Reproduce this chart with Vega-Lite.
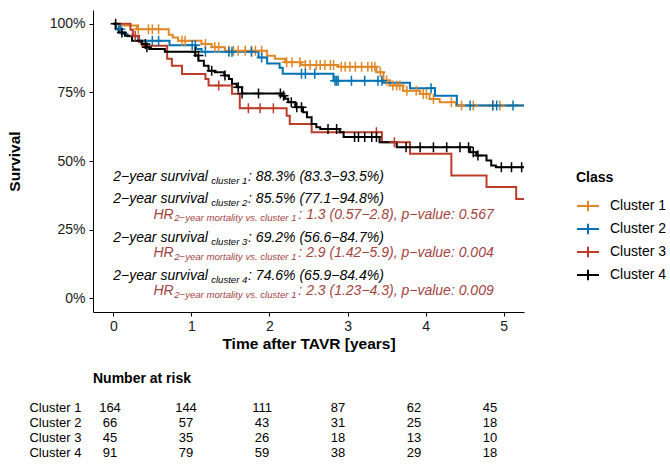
{
  "$schema": "https://vega.github.io/schema/vega-lite/v6.json",
  "background": "white",
  "padding": {"left": 7, "top": 10, "right": 0, "bottom": 0},
  "config": {
    "font": "Liberation Sans",
    "view": {"stroke": null},
    "axis": {"grid": false, "domainColor": "#000000", "tickColor": "#000000", "labelColor": "#1a1a1a", "titleColor": "#000000", "domainWidth": 1, "tickWidth": 1}
  },
  "datasets": {
    "curves": [
      {"cluster": "Cluster 1", "time": 0, "surv": 1.0},
      {"cluster": "Cluster 1", "time": 0.10, "surv": 0.994},
      {"cluster": "Cluster 1", "time": 0.30, "surv": 0.98},
      {"cluster": "Cluster 1", "time": 0.71, "surv": 0.96},
      {"cluster": "Cluster 1", "time": 0.76, "surv": 0.95},
      {"cluster": "Cluster 1", "time": 0.83, "surv": 0.938},
      {"cluster": "Cluster 1", "time": 1.13, "surv": 0.926},
      {"cluster": "Cluster 1", "time": 1.26, "surv": 0.914},
      {"cluster": "Cluster 1", "time": 1.43, "surv": 0.902},
      {"cluster": "Cluster 1", "time": 1.97, "surv": 0.883},
      {"cluster": "Cluster 1", "time": 2.07, "surv": 0.872},
      {"cluster": "Cluster 1", "time": 2.20, "surv": 0.86},
      {"cluster": "Cluster 1", "time": 2.41, "surv": 0.85},
      {"cluster": "Cluster 1", "time": 2.88, "surv": 0.843},
      {"cluster": "Cluster 1", "time": 3.37, "surv": 0.823},
      {"cluster": "Cluster 1", "time": 3.46, "surv": 0.793},
      {"cluster": "Cluster 1", "time": 3.54, "surv": 0.775},
      {"cluster": "Cluster 1", "time": 3.71, "surv": 0.756},
      {"cluster": "Cluster 1", "time": 3.93, "surv": 0.744},
      {"cluster": "Cluster 1", "time": 4.05, "surv": 0.726},
      {"cluster": "Cluster 1", "time": 4.18, "surv": 0.714},
      {"cluster": "Cluster 1", "time": 4.39, "surv": 0.702},
      {"cluster": "Cluster 1", "time": 5.26, "surv": 0.702},
      {"cluster": "Cluster 2", "time": 0, "surv": 1.0},
      {"cluster": "Cluster 2", "time": 0.07, "surv": 0.98},
      {"cluster": "Cluster 2", "time": 0.11, "surv": 0.963},
      {"cluster": "Cluster 2", "time": 0.18, "surv": 0.954},
      {"cluster": "Cluster 2", "time": 0.32, "surv": 0.938},
      {"cluster": "Cluster 2", "time": 0.72, "surv": 0.922},
      {"cluster": "Cluster 2", "time": 1.06, "surv": 0.908},
      {"cluster": "Cluster 2", "time": 1.13, "surv": 0.898},
      {"cluster": "Cluster 2", "time": 1.86, "surv": 0.877},
      {"cluster": "Cluster 2", "time": 1.97, "surv": 0.855},
      {"cluster": "Cluster 2", "time": 2.13, "surv": 0.84},
      {"cluster": "Cluster 2", "time": 2.17, "surv": 0.818},
      {"cluster": "Cluster 2", "time": 2.82, "surv": 0.792},
      {"cluster": "Cluster 2", "time": 3.46, "surv": 0.785},
      {"cluster": "Cluster 2", "time": 3.80, "surv": 0.765},
      {"cluster": "Cluster 2", "time": 4.12, "surv": 0.738},
      {"cluster": "Cluster 2", "time": 4.40, "surv": 0.702},
      {"cluster": "Cluster 2", "time": 5.26, "surv": 0.702},
      {"cluster": "Cluster 3", "time": 0, "surv": 1.0},
      {"cluster": "Cluster 3", "time": 0.22, "surv": 0.978},
      {"cluster": "Cluster 3", "time": 0.25, "surv": 0.956},
      {"cluster": "Cluster 3", "time": 0.33, "surv": 0.933},
      {"cluster": "Cluster 3", "time": 0.37, "surv": 0.92},
      {"cluster": "Cluster 3", "time": 0.69, "surv": 0.872},
      {"cluster": "Cluster 3", "time": 0.75, "surv": 0.847},
      {"cluster": "Cluster 3", "time": 0.88, "surv": 0.817},
      {"cluster": "Cluster 3", "time": 1.18, "surv": 0.799},
      {"cluster": "Cluster 3", "time": 1.22, "surv": 0.775},
      {"cluster": "Cluster 3", "time": 1.52, "surv": 0.745},
      {"cluster": "Cluster 3", "time": 1.62, "surv": 0.692},
      {"cluster": "Cluster 3", "time": 2.22, "surv": 0.665},
      {"cluster": "Cluster 3", "time": 2.26, "surv": 0.635},
      {"cluster": "Cluster 3", "time": 2.54, "surv": 0.605},
      {"cluster": "Cluster 3", "time": 3.44, "surv": 0.568},
      {"cluster": "Cluster 3", "time": 3.80, "surv": 0.526},
      {"cluster": "Cluster 3", "time": 4.33, "surv": 0.447},
      {"cluster": "Cluster 3", "time": 4.78, "surv": 0.405},
      {"cluster": "Cluster 3", "time": 5.16, "surv": 0.362},
      {"cluster": "Cluster 3", "time": 5.26, "surv": 0.362},
      {"cluster": "Cluster 4", "time": 0, "surv": 1.0},
      {"cluster": "Cluster 4", "time": 0.03, "surv": 0.98},
      {"cluster": "Cluster 4", "time": 0.07, "surv": 0.968},
      {"cluster": "Cluster 4", "time": 0.15, "surv": 0.956},
      {"cluster": "Cluster 4", "time": 0.24, "surv": 0.938},
      {"cluster": "Cluster 4", "time": 0.37, "surv": 0.926},
      {"cluster": "Cluster 4", "time": 0.42, "surv": 0.914},
      {"cluster": "Cluster 4", "time": 0.46, "surv": 0.908},
      {"cluster": "Cluster 4", "time": 0.66, "surv": 0.898},
      {"cluster": "Cluster 4", "time": 1.05, "surv": 0.884},
      {"cluster": "Cluster 4", "time": 1.09, "surv": 0.865},
      {"cluster": "Cluster 4", "time": 1.16, "surv": 0.847},
      {"cluster": "Cluster 4", "time": 1.22, "surv": 0.829},
      {"cluster": "Cluster 4", "time": 1.30, "surv": 0.823},
      {"cluster": "Cluster 4", "time": 1.42, "surv": 0.811},
      {"cluster": "Cluster 4", "time": 1.48, "surv": 0.799},
      {"cluster": "Cluster 4", "time": 1.52, "surv": 0.781},
      {"cluster": "Cluster 4", "time": 1.58, "surv": 0.769},
      {"cluster": "Cluster 4", "time": 1.65, "surv": 0.746},
      {"cluster": "Cluster 4", "time": 2.16, "surv": 0.738},
      {"cluster": "Cluster 4", "time": 2.20, "surv": 0.727},
      {"cluster": "Cluster 4", "time": 2.24, "surv": 0.714},
      {"cluster": "Cluster 4", "time": 2.33, "surv": 0.696},
      {"cluster": "Cluster 4", "time": 2.43, "surv": 0.678},
      {"cluster": "Cluster 4", "time": 2.48, "surv": 0.659},
      {"cluster": "Cluster 4", "time": 2.54, "surv": 0.635},
      {"cluster": "Cluster 4", "time": 2.60, "surv": 0.623},
      {"cluster": "Cluster 4", "time": 2.65, "surv": 0.617},
      {"cluster": "Cluster 4", "time": 2.90, "surv": 0.605},
      {"cluster": "Cluster 4", "time": 2.95, "surv": 0.587},
      {"cluster": "Cluster 4", "time": 3.41, "surv": 0.568},
      {"cluster": "Cluster 4", "time": 3.63, "surv": 0.55},
      {"cluster": "Cluster 4", "time": 4.57, "surv": 0.532},
      {"cluster": "Cluster 4", "time": 4.65, "surv": 0.52},
      {"cluster": "Cluster 4", "time": 4.78, "surv": 0.502},
      {"cluster": "Cluster 4", "time": 4.84, "surv": 0.484},
      {"cluster": "Cluster 4", "time": 4.90, "surv": 0.477},
      {"cluster": "Cluster 4", "time": 5.26, "surv": 0.477}
    ],
    "censor": [
      {"cluster": "Cluster 1", "time": 0.32, "surv": 0.98},
      {"cluster": "Cluster 1", "time": 0.45, "surv": 0.98},
      {"cluster": "Cluster 1", "time": 0.50, "surv": 0.98},
      {"cluster": "Cluster 1", "time": 0.58, "surv": 0.98},
      {"cluster": "Cluster 1", "time": 0.88, "surv": 0.938},
      {"cluster": "Cluster 1", "time": 0.92, "surv": 0.938},
      {"cluster": "Cluster 1", "time": 1.18, "surv": 0.926},
      {"cluster": "Cluster 1", "time": 1.30, "surv": 0.914},
      {"cluster": "Cluster 1", "time": 1.35, "surv": 0.914},
      {"cluster": "Cluster 1", "time": 1.48, "surv": 0.902},
      {"cluster": "Cluster 1", "time": 1.54, "surv": 0.902},
      {"cluster": "Cluster 1", "time": 1.60, "surv": 0.902},
      {"cluster": "Cluster 1", "time": 1.69, "surv": 0.902},
      {"cluster": "Cluster 1", "time": 1.77, "surv": 0.902},
      {"cluster": "Cluster 1", "time": 1.82, "surv": 0.902},
      {"cluster": "Cluster 1", "time": 1.90, "surv": 0.902},
      {"cluster": "Cluster 1", "time": 2.22, "surv": 0.86},
      {"cluster": "Cluster 1", "time": 2.29, "surv": 0.86},
      {"cluster": "Cluster 1", "time": 2.39, "surv": 0.86},
      {"cluster": "Cluster 1", "time": 2.46, "surv": 0.85},
      {"cluster": "Cluster 1", "time": 2.52, "surv": 0.85},
      {"cluster": "Cluster 1", "time": 2.60, "surv": 0.85},
      {"cluster": "Cluster 1", "time": 2.65, "surv": 0.85},
      {"cluster": "Cluster 1", "time": 2.71, "surv": 0.85},
      {"cluster": "Cluster 1", "time": 2.78, "surv": 0.85},
      {"cluster": "Cluster 1", "time": 2.82, "surv": 0.85},
      {"cluster": "Cluster 1", "time": 2.92, "surv": 0.843},
      {"cluster": "Cluster 1", "time": 2.97, "surv": 0.843},
      {"cluster": "Cluster 1", "time": 3.03, "surv": 0.843},
      {"cluster": "Cluster 1", "time": 3.10, "surv": 0.843},
      {"cluster": "Cluster 1", "time": 3.18, "surv": 0.843},
      {"cluster": "Cluster 1", "time": 3.26, "surv": 0.843},
      {"cluster": "Cluster 1", "time": 3.31, "surv": 0.843},
      {"cluster": "Cluster 1", "time": 3.35, "surv": 0.843},
      {"cluster": "Cluster 1", "time": 3.42, "surv": 0.823},
      {"cluster": "Cluster 1", "time": 3.50, "surv": 0.793},
      {"cluster": "Cluster 1", "time": 3.58, "surv": 0.775},
      {"cluster": "Cluster 1", "time": 3.63, "surv": 0.775},
      {"cluster": "Cluster 1", "time": 3.67, "surv": 0.775},
      {"cluster": "Cluster 1", "time": 3.76, "surv": 0.756},
      {"cluster": "Cluster 1", "time": 3.88, "surv": 0.756},
      {"cluster": "Cluster 1", "time": 3.97, "surv": 0.744},
      {"cluster": "Cluster 1", "time": 4.01, "surv": 0.744},
      {"cluster": "Cluster 1", "time": 4.10, "surv": 0.726},
      {"cluster": "Cluster 1", "time": 4.33, "surv": 0.714},
      {"cluster": "Cluster 1", "time": 4.46, "surv": 0.702},
      {"cluster": "Cluster 1", "time": 4.61, "surv": 0.702},
      {"cluster": "Cluster 1", "time": 4.86, "surv": 0.702},
      {"cluster": "Cluster 1", "time": 4.95, "surv": 0.702},
      {"cluster": "Cluster 2", "time": 0.09, "surv": 0.98},
      {"cluster": "Cluster 2", "time": 0.50, "surv": 0.938},
      {"cluster": "Cluster 2", "time": 0.58, "surv": 0.938},
      {"cluster": "Cluster 2", "time": 1.01, "surv": 0.922},
      {"cluster": "Cluster 2", "time": 1.05, "surv": 0.922},
      {"cluster": "Cluster 2", "time": 1.18, "surv": 0.898},
      {"cluster": "Cluster 2", "time": 1.48, "surv": 0.898},
      {"cluster": "Cluster 2", "time": 1.52, "surv": 0.898},
      {"cluster": "Cluster 2", "time": 1.77, "surv": 0.898},
      {"cluster": "Cluster 2", "time": 1.90, "surv": 0.877},
      {"cluster": "Cluster 2", "time": 2.41, "surv": 0.818},
      {"cluster": "Cluster 2", "time": 2.46, "surv": 0.818},
      {"cluster": "Cluster 2", "time": 2.58, "surv": 0.818},
      {"cluster": "Cluster 2", "time": 2.84, "surv": 0.792},
      {"cluster": "Cluster 2", "time": 2.86, "surv": 0.792},
      {"cluster": "Cluster 2", "time": 2.88, "surv": 0.792},
      {"cluster": "Cluster 2", "time": 3.05, "surv": 0.792},
      {"cluster": "Cluster 2", "time": 3.22, "surv": 0.792},
      {"cluster": "Cluster 2", "time": 3.39, "surv": 0.792},
      {"cluster": "Cluster 2", "time": 3.44, "surv": 0.792},
      {"cluster": "Cluster 2", "time": 4.07, "surv": 0.765},
      {"cluster": "Cluster 2", "time": 4.57, "surv": 0.702},
      {"cluster": "Cluster 2", "time": 4.86, "surv": 0.702},
      {"cluster": "Cluster 2", "time": 4.91, "surv": 0.702},
      {"cluster": "Cluster 2", "time": 5.12, "surv": 0.702},
      {"cluster": "Cluster 3", "time": 0.28, "surv": 0.956},
      {"cluster": "Cluster 3", "time": 1.35, "surv": 0.775},
      {"cluster": "Cluster 3", "time": 1.73, "surv": 0.692},
      {"cluster": "Cluster 3", "time": 1.88, "surv": 0.692},
      {"cluster": "Cluster 3", "time": 2.05, "surv": 0.692},
      {"cluster": "Cluster 3", "time": 3.37, "surv": 0.605},
      {"cluster": "Cluster 3", "time": 3.60, "surv": 0.568},
      {"cluster": "Cluster 4", "time": 0.03, "surv": 1.0},
      {"cluster": "Cluster 4", "time": 0.11, "surv": 0.968},
      {"cluster": "Cluster 4", "time": 0.41, "surv": 0.926},
      {"cluster": "Cluster 4", "time": 0.43, "surv": 0.914},
      {"cluster": "Cluster 4", "time": 1.05, "surv": 0.898},
      {"cluster": "Cluster 4", "time": 1.09, "surv": 0.884},
      {"cluster": "Cluster 4", "time": 1.26, "surv": 0.829},
      {"cluster": "Cluster 4", "time": 1.43, "surv": 0.811},
      {"cluster": "Cluster 4", "time": 1.60, "surv": 0.769},
      {"cluster": "Cluster 4", "time": 1.65, "surv": 0.746},
      {"cluster": "Cluster 4", "time": 1.86, "surv": 0.746},
      {"cluster": "Cluster 4", "time": 2.14, "surv": 0.746},
      {"cluster": "Cluster 4", "time": 2.18, "surv": 0.738},
      {"cluster": "Cluster 4", "time": 2.28, "surv": 0.714},
      {"cluster": "Cluster 4", "time": 2.35, "surv": 0.696},
      {"cluster": "Cluster 4", "time": 2.41, "surv": 0.696},
      {"cluster": "Cluster 4", "time": 2.75, "surv": 0.617},
      {"cluster": "Cluster 4", "time": 2.86, "surv": 0.617},
      {"cluster": "Cluster 4", "time": 3.09, "surv": 0.587},
      {"cluster": "Cluster 4", "time": 3.14, "surv": 0.587},
      {"cluster": "Cluster 4", "time": 3.22, "surv": 0.587},
      {"cluster": "Cluster 4", "time": 3.31, "surv": 0.587},
      {"cluster": "Cluster 4", "time": 3.37, "surv": 0.587},
      {"cluster": "Cluster 4", "time": 3.75, "surv": 0.55},
      {"cluster": "Cluster 4", "time": 3.93, "surv": 0.55},
      {"cluster": "Cluster 4", "time": 4.10, "surv": 0.55},
      {"cluster": "Cluster 4", "time": 4.27, "surv": 0.55},
      {"cluster": "Cluster 4", "time": 4.44, "surv": 0.55},
      {"cluster": "Cluster 4", "time": 4.55, "surv": 0.55},
      {"cluster": "Cluster 4", "time": 4.61, "surv": 0.532},
      {"cluster": "Cluster 4", "time": 4.67, "surv": 0.52},
      {"cluster": "Cluster 4", "time": 4.97, "surv": 0.477},
      {"cluster": "Cluster 4", "time": 5.10, "surv": 0.477},
      {"cluster": "Cluster 4", "time": 5.23, "surv": 0.477}
    ],
    "annot": [
      {"kind": "surv", "seg": "main", "label": "2−year survival", "x": 0.0, "y": 0.4265},
      {"kind": "surv", "seg": "sub", "label": "cluster 1", "x": 1.253, "y": 0.4265},
      {"kind": "surv", "seg": "rest", "label": ": 88.3% (83.3−93.5%)", "x": 1.726, "y": 0.4265},
      {"kind": "surv", "seg": "main", "label": "2−year survival", "x": 0.0, "y": 0.3465},
      {"kind": "surv", "seg": "sub", "label": "cluster 2", "x": 1.253, "y": 0.3465},
      {"kind": "surv", "seg": "rest", "label": ": 85.5% (77.1−94.8%)", "x": 1.726, "y": 0.3465},
      {"kind": "hr", "seg": "main", "label": "HR", "x": 0.515, "y": 0.29},
      {"kind": "hr", "seg": "sub", "label": "2−year mortality vs. cluster 1", "x": 0.78, "y": 0.29},
      {"kind": "hr", "seg": "rest", "label": ": 1.3 (0.57−2.8), p−value: 0.567", "x": 2.37, "y": 0.29},
      {"kind": "surv", "seg": "main", "label": "2−year survival", "x": 0.0, "y": 0.2047},
      {"kind": "surv", "seg": "sub", "label": "cluster 3", "x": 1.253, "y": 0.2047},
      {"kind": "surv", "seg": "rest", "label": ": 69.2% (56.6−84.7%)", "x": 1.726, "y": 0.2047},
      {"kind": "hr", "seg": "main", "label": "HR", "x": 0.515, "y": 0.150},
      {"kind": "hr", "seg": "sub", "label": "2−year mortality vs. cluster 1", "x": 0.78, "y": 0.150},
      {"kind": "hr", "seg": "rest", "label": ": 2.9 (1.42−5.9), p−value: 0.004", "x": 2.37, "y": 0.150},
      {"kind": "surv", "seg": "main", "label": "2−year survival", "x": 0.0, "y": 0.0655},
      {"kind": "surv", "seg": "sub", "label": "cluster 4", "x": 1.253, "y": 0.0655},
      {"kind": "surv", "seg": "rest", "label": ": 74.6% (65.9−84.4%)", "x": 1.726, "y": 0.0655},
      {"kind": "hr", "seg": "main", "label": "HR", "x": 0.515, "y": 0.011},
      {"kind": "hr", "seg": "sub", "label": "2−year mortality vs. cluster 1", "x": 0.78, "y": 0.011},
      {"kind": "hr", "seg": "rest", "label": ": 2.3 (1.23−4.3), p−value: 0.009", "x": 2.37, "y": 0.011}
    ],
    "risk": [
      {"cluster": "Cluster 1", "time": 0, "n": 164},
      {"cluster": "Cluster 1", "time": 1, "n": 144},
      {"cluster": "Cluster 1", "time": 2, "n": 111},
      {"cluster": "Cluster 1", "time": 3, "n": 87},
      {"cluster": "Cluster 1", "time": 4, "n": 62},
      {"cluster": "Cluster 1", "time": 5, "n": 45},
      {"cluster": "Cluster 2", "time": 0, "n": 66},
      {"cluster": "Cluster 2", "time": 1, "n": 57},
      {"cluster": "Cluster 2", "time": 2, "n": 43},
      {"cluster": "Cluster 2", "time": 3, "n": 31},
      {"cluster": "Cluster 2", "time": 4, "n": 25},
      {"cluster": "Cluster 2", "time": 5, "n": 18},
      {"cluster": "Cluster 3", "time": 0, "n": 45},
      {"cluster": "Cluster 3", "time": 1, "n": 35},
      {"cluster": "Cluster 3", "time": 2, "n": 26},
      {"cluster": "Cluster 3", "time": 3, "n": 18},
      {"cluster": "Cluster 3", "time": 4, "n": 13},
      {"cluster": "Cluster 3", "time": 5, "n": 10},
      {"cluster": "Cluster 4", "time": 0, "n": 91},
      {"cluster": "Cluster 4", "time": 1, "n": 79},
      {"cluster": "Cluster 4", "time": 2, "n": 59},
      {"cluster": "Cluster 4", "time": 3, "n": 38},
      {"cluster": "Cluster 4", "time": 4, "n": 29},
      {"cluster": "Cluster 4", "time": 5, "n": 18}
    ]
  },
  "spacing": 20,
  "resolve": {"scale": {"x": "independent", "y": "independent", "color": "independent"}, "legend": {"color": "independent"}},
  "vconcat": [
    {
      "width": 431,
      "height": 302,
      "layer": [
        {
          "data": {"name": "curves"},
          "mark": {"type": "line", "interpolate": "step-after", "strokeWidth": 2, "clip": true},
          "encoding": {
            "x": {"field": "time", "type": "quantitative",
              "scale": {"domain": [-0.26, 5.26], "nice": false, "zero": false},
              "axis": {"values": [0, 1, 2, 3, 4, 5], "format": "d", "title": "Time after TAVR [years]", "titleFontSize": 15.5, "titleFontWeight": "bold", "labelFontSize": 14, "tickSize": 4, "labelPadding": 3, "titlePadding": 3}},
            "y": {"field": "surv", "type": "quantitative",
              "scale": {"domain": [-0.05, 1.05], "nice": false, "zero": false},
              "axis": {"values": [0, 0.25, 0.5, 0.75, 1], "format": ".0%", "title": "Survival", "titleFontSize": 15.5, "titleFontWeight": "bold", "labelFontSize": 14, "tickSize": 4, "labelPadding": 4, "titlePadding": 27}},
            "color": {"field": "cluster", "type": "nominal",
              "scale": {"domain": ["Cluster 1", "Cluster 2", "Cluster 3", "Cluster 4"], "range": ["#E18727", "#0072B5", "#BC3C29", "#000000"]},
              "legend": {"title": "Class", "orient": "none", "legendX": 483, "legendY": 161, "titleFontSize": 14, "titleFontWeight": "bold", "titleColor": "#000000", "titlePadding": 9, "labelFontSize": 14, "labelColor": "#000000", "labelOffset": 10, "symbolType": "M-1,0L1,0M0,-0.48L0,0.48", "symbolSize": 484, "symbolStrokeWidth": 2, "rowPadding": 1}}
          }
        },
        {
          "data": {"name": "censor"},
          "mark": {"type": "point", "shape": "M-1,0L1,0M0,-1L0,1", "filled": false, "size": 100, "strokeWidth": 1.5, "opacity": 1, "clip": true},
          "encoding": {
            "x": {"field": "time", "type": "quantitative"},
            "y": {"field": "surv", "type": "quantitative"},
            "color": {"field": "cluster", "type": "nominal"}
          }
        },
        {
          "data": {"name": "annot"},
          "transform": [{"filter": "datum.kind === 'surv' && datum.seg !== 'sub'"}],
          "mark": {"type": "text", "align": "left", "baseline": "alphabetic", "fontStyle": "italic", "fontSize": 14, "color": "#000000"},
          "encoding": {
            "x": {"field": "x", "type": "quantitative"},
            "y": {"field": "y", "type": "quantitative"},
            "text": {"field": "label"}
          }
        },
        {
          "data": {"name": "annot"},
          "transform": [{"filter": "datum.kind === 'surv' && datum.seg === 'sub'"}],
          "mark": {"type": "text", "align": "left", "baseline": "alphabetic", "fontStyle": "italic", "fontSize": 9.6, "dy": 2.5, "color": "#000000"},
          "encoding": {
            "x": {"field": "x", "type": "quantitative"},
            "y": {"field": "y", "type": "quantitative"},
            "text": {"field": "label"}
          }
        },
        {
          "data": {"name": "annot"},
          "transform": [{"filter": "datum.kind === 'hr' && datum.seg !== 'sub'"}],
          "mark": {"type": "text", "align": "left", "baseline": "alphabetic", "fontStyle": "italic", "fontSize": 14, "color": "#A3433F"},
          "encoding": {
            "x": {"field": "x", "type": "quantitative"},
            "y": {"field": "y", "type": "quantitative"},
            "text": {"field": "label"}
          }
        },
        {
          "data": {"name": "annot"},
          "transform": [{"filter": "datum.kind === 'hr' && datum.seg === 'sub'"}],
          "mark": {"type": "text", "align": "left", "baseline": "alphabetic", "fontStyle": "italic", "fontSize": 9.6, "dy": 2.5, "color": "#A3433F"},
          "encoding": {
            "x": {"field": "x", "type": "quantitative"},
            "y": {"field": "y", "type": "quantitative"},
            "text": {"field": "label"}
          }
        }
      ]
    },
    {
      "width": 431,
      "height": 60,
      "title": {"text": "Number at risk", "anchor": "start", "frame": "group", "fontSize": 14, "fontWeight": "bold", "color": "#000000", "baseline": "alphabetic", "offset": 3},
      "data": {"name": "risk"},
      "mark": {"type": "text", "fontSize": 13, "color": "#000000", "align": "center", "baseline": "middle"},
      "encoding": {
        "x": {"field": "time", "type": "quantitative", "scale": {"domain": [-0.2237, 5.447], "nice": false, "zero": false}, "axis": null},
        "y": {"field": "cluster", "type": "nominal", "sort": ["Cluster 1", "Cluster 2", "Cluster 3", "Cluster 4"], "scale": {"paddingInner": 0, "paddingOuter": 0}, "axis": {"title": null, "domain": false, "ticks": false, "labelPadding": 12, "labelFontSize": 13, "labelColor": "#000000"}},
        "text": {"field": "n", "type": "quantitative"}
      }
    }
  ]
}
